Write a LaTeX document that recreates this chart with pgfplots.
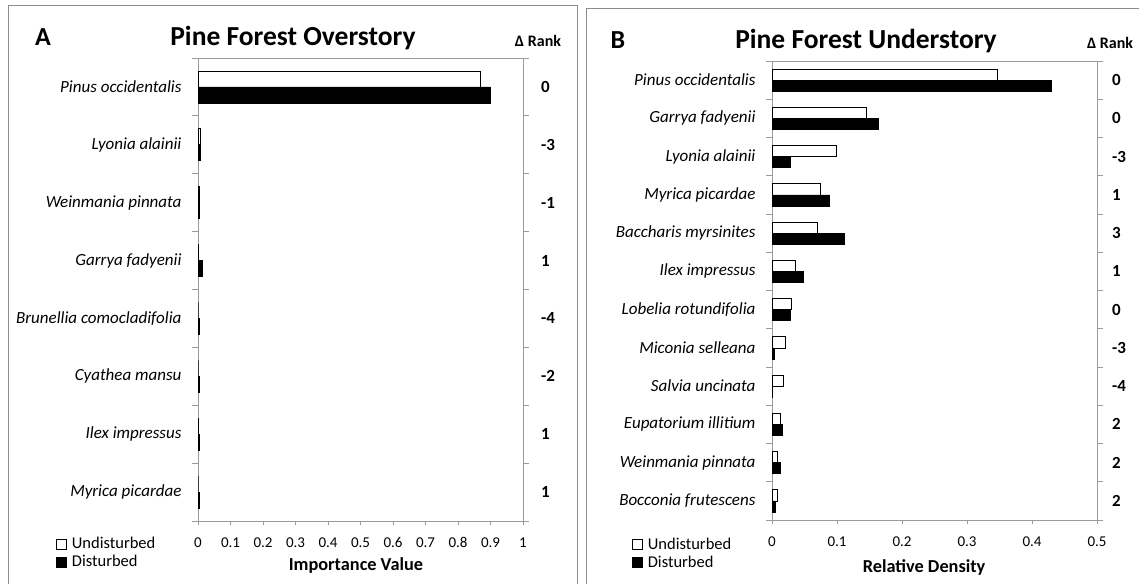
\documentclass[border=0pt]{standalone}
\usepackage{pgfplots}
\pgfplotsset{compat=1.18}
\usepackage{pgfplotstable}
\usepackage{fontspec}
\setmainfont{Carlito}
\definecolor{axgray}{RGB}{155,155,155}
\definecolor{framegray}{RGB}{140,140,140}
\newcommand\fs[2]{\fontsize{#1pt}{#2pt}\selectfont}

\pgfplotstableread{
y und dis
1 0.869 0.900
2 0.006 0.006
3 0.004 0.004
4 0.002 0.013
5 0.000 0.003
6 0.000 0.003
7 0.001 0.005
8 0.000 0.003
}\overtab

\pgfplotstableread{
y und dis
1  0.346  0.429
2  0.145  0.164
3  0.0985 0.028
4  0.075  0.088
5  0.070  0.111
6  0.036  0.0475
7  0.029  0.028
8  0.021  0.0035
9  0.0175 0.001
10 0.0123 0.016
11 0.0085 0.0134
12 0.0085 0.005
}\undertab

\pgfplotsset{
 panel/.style={scale only axis, anchor=south west, xbar, y dir=reverse, clip=false,
   axis line style={axgray, line width=0.8pt},
   tick align=outside, major tick length=4pt, minor tick length=6pt,
   xtick pos=bottom, ytick pos=both, yticklabel pos=left,
   major y tick style={draw=none}, minor y tick style={axgray, line width=0.8pt},
   major x tick style={axgray, line width=0.8pt},
   ticklabel style={font=\fs{15}{18}},
   yticklabel style={font=\fs{17}{20}\itshape, xshift=-9pt},
   /pgf/number format/assume math mode=true,
   xticklabel style={/pgf/number format/fixed, yshift=-9pt},
   legend style={draw=none, fill=none, font=\fs{16.5}{19}, anchor=west, inner sep=0pt, row sep=1pt},
   legend cell align=left,
   legend image code/.code={\draw[#1] (0pt,-5pt) rectangle (10pt,5pt); \path (13pt,0pt);},
   xlabel style={font=\fs{18.3}{22}\bfseries, anchor=center},
 },
 ranks/.style={scale only axis, anchor=south west, y dir=reverse,
   axis line style={draw=none}, xtick=\empty, ytick pos=right, yticklabel pos=right,
   major tick length=0pt, ytick style={draw=none},
   yticklabel style={font=\fs{17}{20}\bfseries, anchor=west, inner sep=0pt}},
}

\begin{document}
\begin{tikzpicture}
\useasboundingbox (0,0) rectangle (1139pt,583pt);
% panel frames
\draw[framegray, line width=1pt] (8pt,-5pt) -- (8pt,577pt) -- (577pt,577pt) -- (577pt,-5pt);
\draw[framegray, line width=1pt] (586pt,-5pt) -- (586pt,574pt) -- (1145pt,574pt);

% ---------- Panel A ----------
\begin{axis}[panel, at={(198pt,62pt)}, width=325pt, height=463pt,
  xmin=0, xmax=1, ymin=0.5, ymax=8.5, bar width=0.276,
  xtick={0,0.1,0.2,0.3,0.4,0.5,0.6,0.7,0.8,0.9,1},
  ytick={1,2,3,4,5,6,7,8},
  minor ytick={0.5,1.5,2.5,3.5,4.5,5.5,6.5,7.5,8.5},
  yticklabels={Pinus occidentalis, Lyonia alainii, Weinmania pinnata, Garrya fadyenii, Brunellia comocladifolia, Cyathea mansu, Ilex impressus, Myrica picardae},
  xlabel={Importance Value},
  xlabel style={at={(axis description cs:0.486,-0.097)}},
  legend style={at={(axis description cs:-0.437,-0.069)}}]
\addplot[fill=white, draw=black, line width=0.7pt, bar shift=-0.138] table[x=und,y=y]{\overtab};
\addplot[fill=black, draw=black, line width=0.7pt, bar shift=0.138] table[x=dis,y=y]{\overtab};
\legend{Undisturbed, Disturbed}
\end{axis}
\begin{axis}[ranks, at={(198pt,62pt)}, width=325pt, height=463pt,
  xmin=0, xmax=1, ymin=0.5, ymax=8.5,
  ytick={1,2,3,4,5,6,7,8},
  yticklabels={0,-3,-1,1,-4,-2,1,1},
  yticklabel style={xshift=18pt}]
\end{axis}

% ---------- Panel B ----------
\begin{axis}[panel, at={(772pt,63pt)}, width=325pt, height=459pt,
  xmin=0, xmax=0.5, ymin=0.5, ymax=12.5, bar width=0.29,
  xtick={0,0.1,0.2,0.3,0.4,0.5},
  ytick={1,2,3,4,5,6,7,8,9,10,11,12},
  minor ytick={0.5,1.5,2.5,3.5,4.5,5.5,6.5,7.5,8.5,9.5,10.5,11.5,12.5},
  yticklabels={Pinus occidentalis, Garrya fadyenii, Lyonia alainii, Myrica picardae, Baccharis myrsinites, Ilex impressus, Lobelia rotundifolia, Miconia selleana, Salvia uncinata, Eupatorium illitium, Weinmania pinnata, Bocconia frutescens},
  xlabel={Relative Density},
  xlabel style={at={(axis description cs:0.468,-0.1024)}},
  legend style={at={(axis description cs:-0.431,-0.072)}}]
\addplot[fill=white, draw=black, line width=0.7pt, bar shift=-0.145] table[x=und,y=y]{\undertab};
\addplot[fill=black, draw=black, line width=0.7pt, bar shift=0.145] table[x=dis,y=y]{\undertab};
\legend{Undisturbed, Disturbed}
\end{axis}
\begin{axis}[ranks, at={(772pt,63pt)}, width=325pt, height=459pt,
  xmin=0, xmax=0.5, ymin=0.5, ymax=12.5,
  ytick={1,2,3,4,5,6,7,8,9,10,11,12},
  yticklabels={0,0,-3,1,3,1,0,-3,-4,2,2,2},
  yticklabel style={xshift=15pt}]
\end{axis}

% titles
\node[anchor=base, font=\fs{26}{30}\bfseries] at (43pt,537pt) {A};
\node[anchor=base, font=\fs{27.5}{32}\bfseries] at (293pt,537pt) {Pine Forest Overstory};
\node[anchor=base, font=\fs{16}{19}\bfseries] at (538pt,536pt) {Δ Rank};
\node[anchor=base, font=\fs{26}{30}\bfseries] at (618pt,534pt) {B};
\node[anchor=base, font=\fs{27.5}{32}\bfseries] at (866pt,534pt) {Pine Forest Understory};
\node[anchor=base, font=\fs{16}{19}\bfseries] at (1110pt,534pt) {Δ Rank};
\end{tikzpicture}
\end{document}
